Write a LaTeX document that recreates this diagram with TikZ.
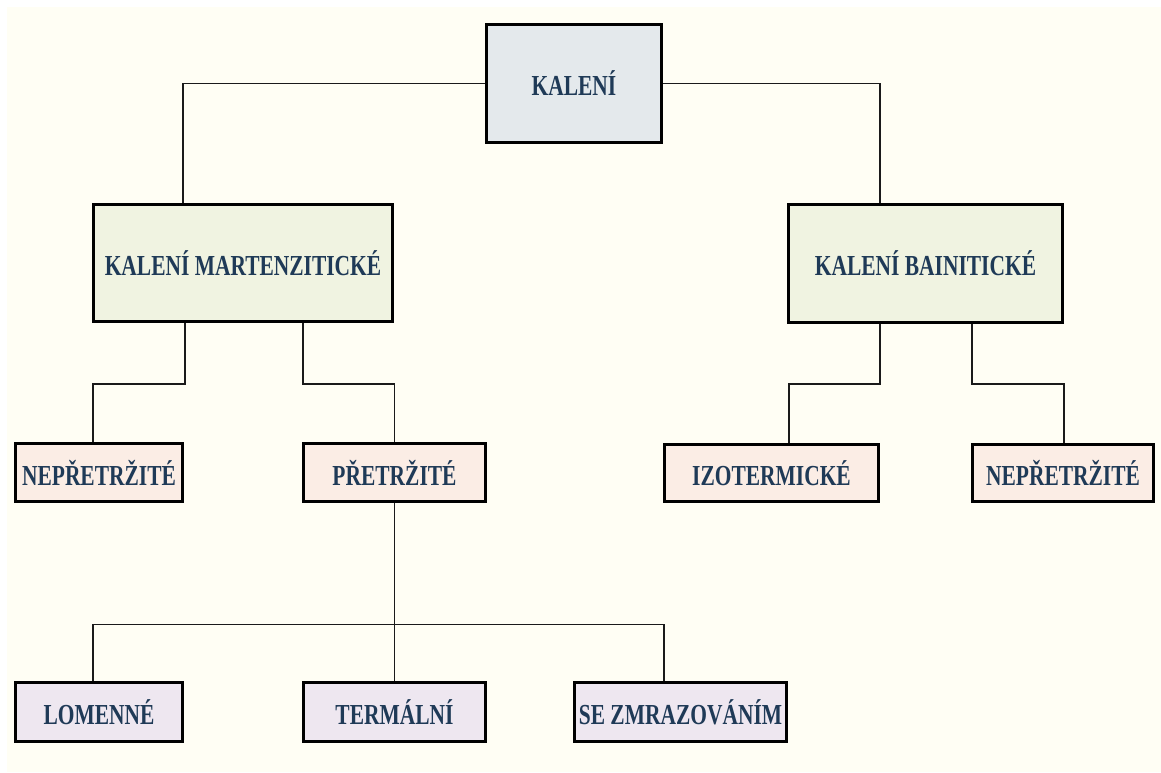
\documentclass[tikz,border=0pt]{standalone}
\usepackage{fontspec}
\setmainfont{Liberation Serif}
\newfontfamily\labfont{Liberation Serif}[FakeStretch=0.74]
\definecolor{bgcream}{HTML}{FFFEF4}
\definecolor{topfill}{HTML}{E4E9EC}
\definecolor{midfill}{HTML}{F0F3E1}
\definecolor{lowfill}{HTML}{FBEDE5}
\definecolor{botfill}{HTML}{EEE7F0}
\definecolor{txtcol}{HTML}{1F3A57}
\definecolor{linecol}{HTML}{1A1A1A}
\begin{document}
\begin{tikzpicture}[x=1pt,y=-1pt,
  boxbase/.style={draw=black, line width=3pt, inner sep=0pt, text=txtcol,
    font=\labfont\bfseries\fontsize{29}{30}\selectfont},
  topbox/.style={boxbase, fill=topfill},
  midbox/.style={boxbase, fill=midfill},
  lowbox/.style={boxbase, fill=lowfill},
  botbox/.style={boxbase, fill=botfill},
  conn/.style={draw=linecol, line width=1.4pt}
]
\useasboundingbox (0,0) rectangle (1161,772);
\fill[white] (0,0) rectangle (1161,772);
\fill[bgcream] (7,7) rectangle (1161,772);

\node[topbox, minimum width=175pt, minimum height=118pt] (kal) at (574,83.5) {KALENÍ};
\node[midbox, minimum width=299pt, minimum height=117pt] (mart) at (243,263) {KALENÍ MARTENZITICKÉ};
\node[midbox, minimum width=274pt, minimum height=118pt] (bain) at (925.5,263.5) {KALENÍ BAINITICKÉ};
\node[lowbox, minimum width=167pt, minimum height=58pt] (nep1) at (99,472.5) {NEPŘETRŽITÉ};
\node[lowbox, minimum width=182pt, minimum height=58pt] (pre) at (394.5,472.5) {PŘETRŽITÉ};
\node[lowbox, minimum width=214pt, minimum height=57pt] (izo) at (771.5,473) {IZOTERMICKÉ};
\node[lowbox, minimum width=181pt, minimum height=57pt] (nep2) at (1063,473) {NEPŘETRŽITÉ};
\node[botbox, minimum width=167pt, minimum height=59pt] (lom) at (99,712) {LOMENNÉ};
\node[botbox, minimum width=182pt, minimum height=59pt] (ter) at (394.5,712) {TERMÁLNÍ};
\node[botbox, minimum width=212pt, minimum height=59pt] (sez) at (680.5,712) {SE ZMRAZOVÁNÍM};

\begin{scope}[on background layer/.style={}]
\draw[conn] (kal.west) -| ([xshift=-60pt]mart.north);
\draw[conn] (kal.east) -| ([xshift=-45.5pt]bain.north);
\draw[conn] ([xshift=-58pt]mart.south) -- ++(0,61) -| ([xshift=-6pt]nep1.north);
\draw[conn] ([xshift=60pt]mart.south) -- ++(0,61) -| (pre.north);
\draw[conn] ([xshift=-45.5pt]bain.south) -- ++(0,60) -| ([xshift=17.5pt]izo.north);
\draw[conn] ([xshift=46.5pt]bain.south) -- ++(0,60) -| ([xshift=1pt]nep2.north);
\draw[conn] (pre.south) -- (ter.north);
\draw[conn] (pre.south) -- ++(0,121.5) -| ([xshift=-6pt]lom.north);
\draw[conn] (pre.south) -- ++(0,121.5) -| ([xshift=-16.5pt]sez.north);
\end{scope}
\end{tikzpicture}
\end{document}
